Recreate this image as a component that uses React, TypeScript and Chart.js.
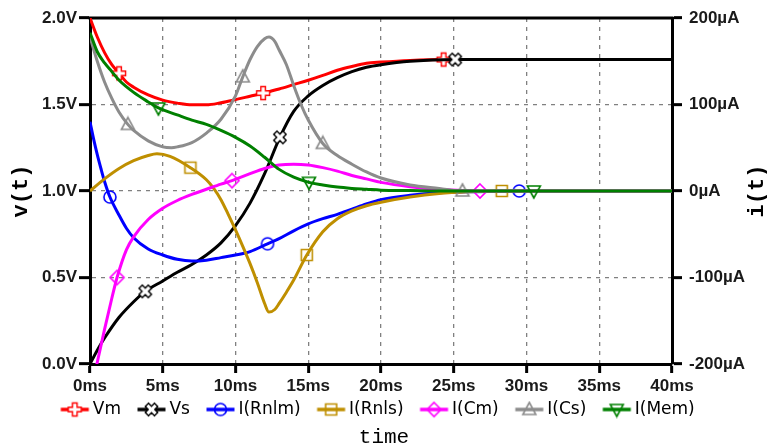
import React, { useEffect, useRef } from 'react';
import { Chart, registerables } from 'chart.js';

Chart.register(...registerables);

// ---------- data (time in ms) ----------
const T_VM = [0, 0.5, 1, 1.5, 2, 2.5, 3, 4, 5, 6, 7, 8, 9, 10, 11, 11.9, 13, 14, 15, 16, 17, 18, 19, 20, 22, 24.3, 40];
const VM = [2.0, 1.89, 1.8, 1.73, 1.68, 1.63, 1.6, 1.555, 1.525, 1.508, 1.498, 1.498, 1.51, 1.528, 1.548, 1.566, 1.59, 1.615, 1.64, 1.668, 1.698, 1.72, 1.738, 1.745, 1.755, 1.76, 1.76];
const VM_MARKS = [2, 11.9, 24.3];

const T_VS = [0, 0.5, 1, 2, 3, 3.8, 5, 6, 7, 8, 9, 10, 11, 12, 13.05, 14, 15, 16, 17, 18, 19, 20, 22, 25.1, 40];
const VS = [0, 0.08, 0.15, 0.27, 0.36, 0.42, 0.48, 0.53, 0.575, 0.63, 0.7, 0.8, 0.93, 1.1, 1.31, 1.46, 1.55, 1.61, 1.655, 1.69, 1.715, 1.73, 1.75, 1.76, 1.76];
const VS_MARKS = [3.8, 13.05, 25.1];

const T_RNLM = [0, 0.25, 0.5, 0.75, 1, 1.37, 2, 2.5, 3, 4, 5, 6, 7, 8, 9, 10, 11, 12.2, 13, 14, 15, 16, 17, 18, 19, 20, 22, 24, 26, 29.5, 40];
const I_RNLM = [80, 60, 42, 26, 11, -7, -28, -43, -54, -67, -74, -79, -81, -80, -77, -74, -70, -61, -55, -46, -38, -32, -27, -21, -15, -10, -5, -2, -1, 0, 0];
const RNLM_MARKS = [1.37, 12.2, 29.5];

const T_RNLS = [0, 1, 2, 3, 4, 4.6, 5.5, 6.9, 8, 8.5, 9, 9.5, 10, 10.5, 11, 11.5, 12, 12.3, 12.7, 13, 13.5, 14, 14.9, 16, 17, 18, 19, 20, 22, 24, 26, 28.3, 40];
const I_RNLS = [0, 14, 26, 35, 41, 43, 40, 27, 13, 3, -10, -27, -45, -64, -84, -106, -130, -140, -137, -130, -117, -103, -74, -47, -32, -23, -17, -13, -7, -3, -1, 0, 0];
const RNLS_MARKS = [6.9, 14.9, 28.3];

const T_CM = [0, 0.5, 1, 1.5, 1.86, 2.5, 3, 4, 5, 6, 7, 8, 9, 9.76, 11, 12, 13, 14, 15, 16, 17, 18, 19, 20, 22, 24, 26.8, 40];
const I_CM = [-235, -198, -160, -124, -100, -68, -53, -33, -20, -11, -4, 2, 8, 12, 20, 26, 30, 31, 30, 27, 23, 18, 14, 10, 5, 2, 0, 0];
const CM_MARKS = [1.86, 9.76, 26.8];

const T_CS = [0, 0.5, 1, 1.5, 2, 2.6, 3, 4, 5, 5.6, 6, 7, 8, 9, 10, 10.5, 11, 11.5, 12, 12.3, 12.7, 13, 13.5, 14, 14.5, 15, 16, 17, 18, 19, 20, 22, 24, 25.6, 40];
const I_CS = [178, 150, 126, 107, 91, 77, 70, 58, 51, 50, 51, 56, 67, 83, 110, 132, 152, 167, 176, 178, 173, 163, 146, 122, 100, 82, 55, 41, 31, 22, 15, 7, 3, 0, 0];
const CS_MARKS = [2.6, 10.5, 16, 25.6];

const T_MEM = [0, 0.5, 1, 1.5, 2, 3, 4, 4.7, 6, 7, 8, 9, 10, 11, 12, 13, 14, 15.05, 16, 17, 18, 19, 20, 22, 24, 30.5, 40];
const I_MEM = [183, 161, 148, 138, 128, 114, 103, 96, 88, 82, 77, 70, 62, 52, 39, 25, 16, 10, 7, 4.5, 3, 2, 1, 0.5, 0, 0, 0];
const MEM_MARKS = [4.7, 15.05, 30.5];

const LABELS = ['Vm', 'Vs', 'I(Rnlm)', 'I(Rnls)', 'I(Cm)', 'I(Cs)', 'I(Mem)'];
const COLORS = ['#ff0000', '#000000', '#0000ff', '#bf8f00', '#ff00ff', '#8c8c8c', '#008000'];
const MARKERS = ['plus', 'cross', 'circle', 'square', 'diamond', 'tri', 'tridown'];

const X_TITLE = 'time';
const V_TITLE = 'v(t)';
const I_TITLE = 'i(t)';

const X_TICK_STEP = 5;
const V_TICK_STEP = 0.5;
const I_TICK_STEP = 100;

function shapePath(ctx: CanvasRenderingContext2D, kind: string, cx: number, cy: number) {
  ctx.beginPath();
  if (kind === 'plus' || kind === 'cross') {
    const a = 2.3, L = 6.5;
    const pts = [[-a, -L], [a, -L], [a, -a], [L, -a], [L, a], [a, a], [a, L], [-a, L], [-a, a], [-L, a], [-L, -a], [-a, -a]];
    const r = kind === 'cross' ? Math.PI / 4 : 0;
    pts.forEach(([px, py], i) => {
      const x = cx + px * Math.cos(r) - py * Math.sin(r);
      const y = cy + px * Math.sin(r) + py * Math.cos(r);
      if (i === 0) ctx.moveTo(x, y); else ctx.lineTo(x, y);
    });
    ctx.closePath();
  } else if (kind === 'circle') {
    ctx.arc(cx, cy, 6, 0, Math.PI * 2);
  } else if (kind === 'square') {
    ctx.rect(cx - 5.5, cy - 5.5, 11, 11);
  } else if (kind === 'diamond') {
    ctx.moveTo(cx, cy - 7); ctx.lineTo(cx + 7, cy); ctx.lineTo(cx, cy + 7); ctx.lineTo(cx - 7, cy); ctx.closePath();
  } else if (kind === 'tri') {
    ctx.moveTo(cx, cy - 7); ctx.lineTo(cx + 6.5, cy + 5); ctx.lineTo(cx - 6.5, cy + 5); ctx.closePath();
  } else {
    ctx.moveTo(cx, cy + 7); ctx.lineTo(cx + 6.5, cy - 5); ctx.lineTo(cx - 6.5, cy - 5); ctx.closePath();
  }
}

function drawMarker(ctx: CanvasRenderingContext2D, kind: string, color: string, cx: number, cy: number) {
  shapePath(ctx, kind, cx, cy);
  if (kind === 'plus' || kind === 'cross') {
    ctx.fillStyle = '#ffffff';
    ctx.fill();
    ctx.lineWidth = 1.4;
  } else {
    ctx.lineWidth = 1.6;
  }
  ctx.strokeStyle = color;
  ctx.stroke();
}

function makeMarker(kind: string, color: string) {
  const c = document.createElement('canvas');
  c.width = 18; c.height = 18;
  const ctx = c.getContext('2d')!;
  drawMarker(ctx, kind, color, 9, 9);
  return c;
}

// legend icon: 48px wide canvas, drawn line occupies its right part
function makeLegendIcon(kind: string, color: string) {
  const c = document.createElement('canvas');
  c.width = 48; c.height = 18;
  const ctx = c.getContext('2d')!;
  const x0 = 17.5, x1 = 45.5;
  ctx.strokeStyle = color;
  ctx.lineWidth = 3.5;
  ctx.beginPath(); ctx.moveTo(x0, 9); ctx.lineTo(x1, 9); ctx.stroke();
  drawMarker(ctx, kind, color, (x0 + x1) / 2, 9);
  return c;
}

function pts(t: number[], v: number[]) {
  return t.map((x, i) => ({ x, y: v[i] }));
}

export default function App() {
  const ref = useRef<HTMLCanvasElement>(null);

  useEffect(() => {
    const series = [
      { t: T_VM, v: VM, m: VM_MARKS, axis: 'y' },
      { t: T_VS, v: VS, m: VS_MARKS, axis: 'y' },
      { t: T_RNLM, v: I_RNLM, m: RNLM_MARKS, axis: 'y1' },
      { t: T_RNLS, v: I_RNLS, m: RNLS_MARKS, axis: 'y1' },
      { t: T_CM, v: I_CM, m: CM_MARKS, axis: 'y1' },
      { t: T_CS, v: I_CS, m: CS_MARKS, axis: 'y1' },
      { t: T_MEM, v: I_MEM, m: MEM_MARKS, axis: 'y1' },
    ];
    const legendIcons = MARKERS.map((k, i) => makeLegendIcon(k, COLORS[i]));
    const datasets = series.map((s, i) => ({
      label: LABELS[i],
      data: pts(s.t, s.v),
      yAxisID: s.axis,
      borderColor: COLORS[i],
      backgroundColor: COLORS[i],
      borderWidth: 3,
      cubicInterpolationMode: 'monotone' as const,
      pointStyle: makeMarker(MARKERS[i], COLORS[i]),
      pointRadius: (ctx: any) => (ctx.raw && s.m.includes(ctx.raw.x) ? 6 : 0),
      pointHoverRadius: 0,
      order: series.length - i,
    }));

    const extras = {
      id: 'extras',
      beforeDatasetsDraw(chart: any) {
        const { ctx, chartArea } = chart;
        ctx.save();
        ctx.strokeStyle = '#000';
        ctx.lineWidth = 3;
        ctx.beginPath();
        ctx.moveTo(chartArea.left - 1.5, chartArea.top);
        ctx.lineTo(chartArea.right + 1.5, chartArea.top);
        ctx.stroke();
        ctx.restore();
      },
      afterDraw(chart: any) {
        const { ctx, chartArea } = chart;
        ctx.save();
        ctx.fillStyle = '#000';
        ctx.textAlign = 'center';
        ctx.textBaseline = 'middle';
        ctx.translate(757, (chartArea.top + chartArea.bottom) / 2);
        ctx.rotate(-Math.PI / 2);
        ctx.font = 'bold 22px "Liberation Mono"';
        ctx.fillText(I_TITLE, 0, 0);
        ctx.restore();
        ctx.save();
        ctx.fillStyle = '#000';
        ctx.textAlign = 'center';
        ctx.textBaseline = 'alphabetic';
        ctx.font = '21px "Liberation Mono"';
        ctx.fillText(X_TITLE, 384, 443);
        ctx.restore();
      },
    };

    const tickFont = { family: '"Liberation Sans", Arial', size: 17, weight: 'bold' as const };
    const gridCommon = {
      color: '#808080',
      lineWidth: 1.3,
      tickColor: '#000',
      tickWidth: 3,
    };

    const chart = new Chart(ref.current!, {
      type: 'line',
      data: { datasets },
      plugins: [extras],
      options: {
        responsive: false,
        animation: false,
        layout: { padding: { top: 18, left: -22, right: 0, bottom: 19 } },
        plugins: {
          tooltip: { enabled: false },
          legend: {
            position: 'bottom',
            labels: {
              usePointStyle: true,
              pointStyleWidth: 34,
              padding: 6,
              color: '#000',
              font: { family: '"DejaVu Sans"', size: 17 },
              generateLabels: (ch: any) =>
                ch.data.datasets.map((ds: any, i: number) => ({
                  text: ds.label,
                  pointStyle: legendIcons[i],
                  datasetIndex: i,
                  hidden: false,
                  fillStyle: COLORS[i],
                  strokeStyle: COLORS[i],
                  lineWidth: 0,
                  fontColor: '#000',
                })),
            },
          },
          title: { display: false },
        },
        scales: {
          x: {
            type: 'linear',
            min: 0,
            max: 40,
            afterFit: (s: any) => { s.height = 31; },
            ticks: {
              stepSize: X_TICK_STEP,
              padding: 3,
              color: '#1a1a1a',
              font: tickFont,
              maxRotation: 0,
              callback: (v: any) => `${v}ms`,
            },
            grid: { ...gridCommon, tickLength: 9 },
            border: { color: '#000', width: 3, dash: [4, 5] },
          },
          y: {
            position: 'left',
            min: 0,
            max: 2,
            afterFit: (s: any) => { s.width = 112; },
            ticks: {
              stepSize: V_TICK_STEP,
              padding: 2,
              color: '#1a1a1a',
              font: tickFont,
              callback: (v: any) => `${Number(v).toFixed(1)}V`,
            },
            title: {
              display: true,
              text: V_TITLE,
              color: '#000',
              font: { family: '"Liberation Mono"', size: 22, weight: 'bold' },
              padding: { top: 30, bottom: 0 },
            },
            grid: { ...gridCommon, tickLength: 11 },
            border: { color: '#000', width: 3, dash: [4, 5] },
          },
          y1: {
            position: 'right',
            min: -200,
            max: 200,
            afterFit: (s: any) => { s.width = 95; },
            ticks: {
              stepSize: I_TICK_STEP,
              padding: 7,
              color: '#1a1a1a',
              font: tickFont,
              callback: (v: any) => `${v}µA`,
            },
            grid: { ...gridCommon, tickLength: 10, drawOnChartArea: false },
            border: { color: '#000', width: 3 },
          },
        },
      },
    } as any);
    return () => chart.destroy();
  }, []);

  return (
    <div style={{ position: 'fixed', left: 0, top: 0, width: 767, height: 447, background: '#fff' }}>
      <canvas ref={ref} width={767} height={447} style={{ display: 'block' }} />
    </div>
  );
}
